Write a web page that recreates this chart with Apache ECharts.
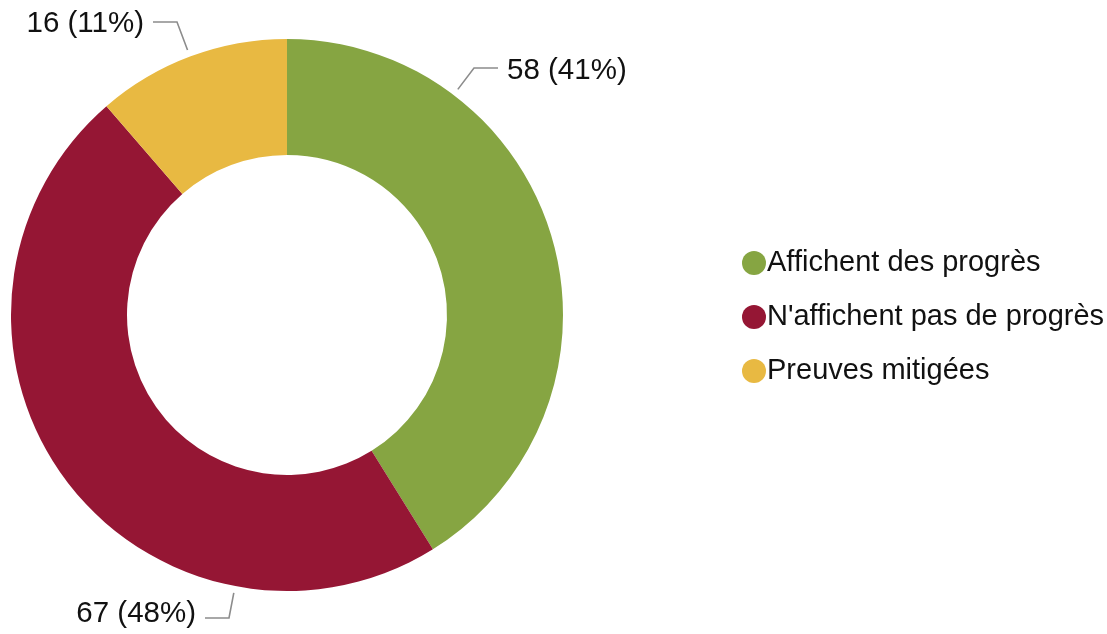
<!DOCTYPE html>
<html>
<head>
<meta charset="utf-8" />
<script src="https://cdn.jsdelivr.net/npm/echarts@6/dist/echarts.min.js"></script>
<style>
  html, body { margin: 0; padding: 0; background: #ffffff; }
  #chart { width: 1107px; height: 634px; }
</style>
</head>
<body>
<div id="chart"></div>
<script>
// data
var categories = ["Affichent des progrès", "N'affichent pas de progrès", "Preuves mitigées"];
var counts = [58, 67, 16];
var colors = ["#86a542", "#951634", "#e8b942"];

// where each outside label sits (text anchor), same order as categories
var labelSpots = [
  { x: 507, y: 71, lineY: 68, align: "left" },
  { x: 196, y: 614, lineY: 618, align: "right" },
  { x: 144, y: 24, lineY: 22, align: "right" }
];

var CX = 287, CY = 315, R_IN = 160, R_OUT = 276;

var chart = echarts.init(document.getElementById("chart"));

var pieData = categories.map(function (name, i) {
  return { name: name, value: counts[i], itemStyle: { color: colors[i] } };
});

// slice angle ranges (degrees clockwise from 12 o'clock)
var total = counts.reduce(function (a, b) { return a + b; }, 0);
var ranges = [];
var acc = 0;
counts.forEach(function (v) {
  ranges.push([acc, acc + v / total * 360]);
  acc += v / total * 360;
});

// Excel-style leader: short horizontal bit from label, then to slice edge
function leader(i) {
  var s = labelSpots[i];
  var dir = s.align === "left" ? -1 : 1;
  var ax = s.x + dir * 9, ay = s.lineY;
  var ex = ax + dir * 24, ey = ay;
  var ang = Math.atan2(ex - CX, CY - ey) * 180 / Math.PI;
  if (ang < 0) ang += 360;
  var r = ranges[i];
  if (ang < r[0]) ang = r[0];
  if (ang > r[1]) ang = r[1];
  var rad = ang * Math.PI / 180;
  var sx = CX + (R_OUT + 7) * Math.sin(rad);
  var sy = CY - (R_OUT + 7) * Math.cos(rad);
  return [[sx, sy], [ex, ey], [ax, ay]];
}

var option = {
  animation: false,
  textStyle: { fontFamily: "Liberation Sans, Arial, sans-serif" },
  legend: {
    orient: "vertical",
    left: 737,
    top: "middle",
    icon: "circle",
    itemWidth: 24,
    itemHeight: 24,
    itemGap: 25,
    textStyle: {
      fontSize: 29,
      color: "#111111",
      fontFamily: "Liberation Sans, Arial, sans-serif",
      padding: [0, 0, 0, -4]
    },
    data: categories
  },
  series: [
    {
      type: "pie",
      center: [CX, CY],
      radius: [R_IN, R_OUT],
      startAngle: 90,
      clockwise: true,
      avoidLabelOverlap: false,
      label: {
        show: true,
        position: "outside",
        formatter: function (p) {
          return p.value + " (" + Math.round(p.percent) + "%)";
        },
        fontSize: 29.5,
        color: "#111111",
        fontFamily: "Liberation Sans, Arial, sans-serif"
      },
      labelLine: {
        show: true,
        length: 20,
        length2: 22,
        lineStyle: { color: "#8c8c8c", width: 1.6 }
      },
      labelLayout: function (params) {
        var s = labelSpots[params.dataIndex];
        return {
          x: s.x,
          y: s.y,
          align: s.align,
          verticalAlign: "middle",
          labelLinePoints: leader(params.dataIndex)
        };
      },
      emphasis: { disabled: true },
      data: pieData
    }
  ]
};

chart.setOption(option);
</script>
</body>
</html>
